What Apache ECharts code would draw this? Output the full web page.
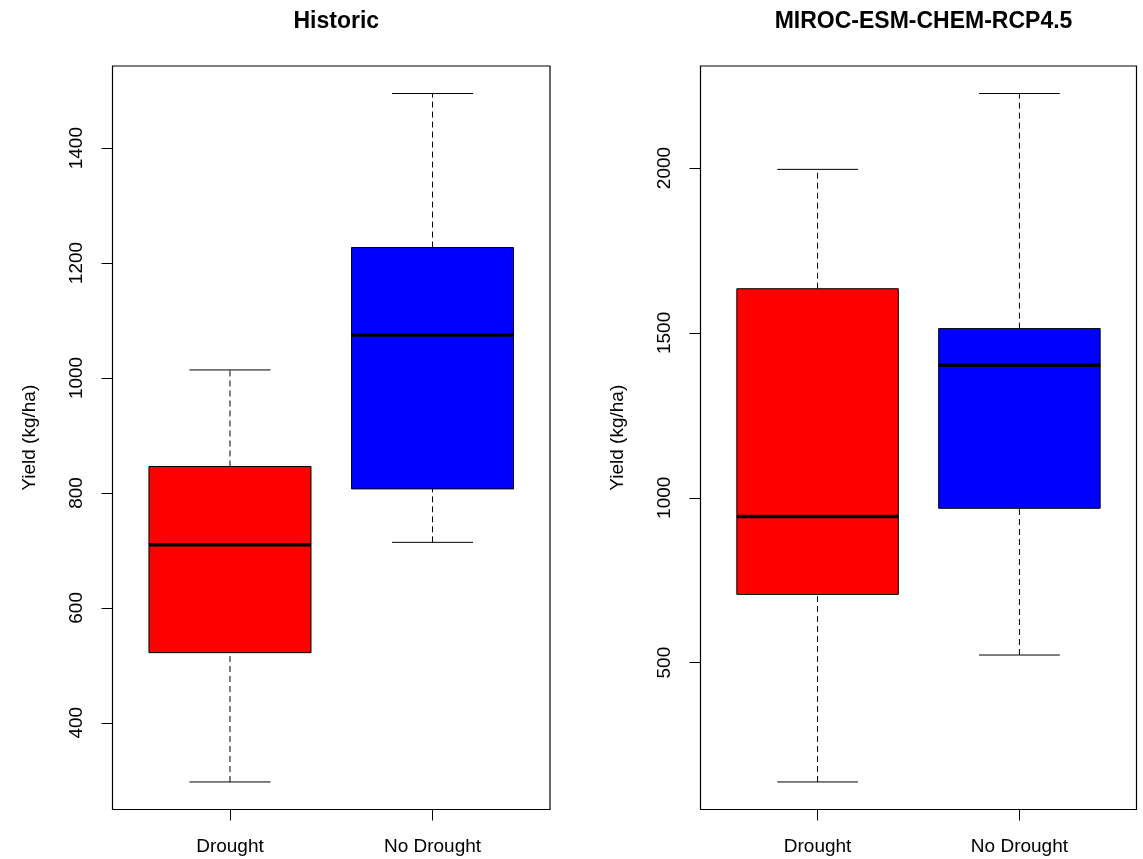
<!DOCTYPE html>
<html>
<head>
<meta charset="utf-8">
<script src="https://cdn.jsdelivr.net/npm/echarts@6/dist/echarts.min.js"></script>
<style>
html,body{margin:0;padding:0;background:#fff;}
#chart{width:1143px;height:859px;}
</style>
</head>
<body>
<div id="chart"></div>
<script>
// ---- data (whisker low, Q1, median, Q3, whisker high) ----
const categories = ['Drought', 'No Drought'];
const boxColors = ['#FF0000', '#0000FF'];
const panelTitles = ['Historic', 'MIROC-ESM-CHEM-RCP4.5'];
const historicDrought = [297, 522, 710, 846, 1014];
const historicNoDrought = [714, 807, 1075, 1227, 1495];
const mirocDrought = [138, 707, 943, 1634, 1996];
const mirocNoDrought = [523, 968, 1402, 1513, 2226];
const historicTicks = [400, 600, 800, 1000, 1200, 1400];
const mirocTicks = [500, 1000, 1500, 2000];
const yName = 'Yield (kg/ha)';

const FONT = '"Liberation Sans", Arial, sans-serif';

function ext(stats) {
  let lo = Infinity, hi = -Infinity;
  stats.forEach(s => { lo = Math.min(lo, ...s); hi = Math.max(hi, ...s); });
  const r = hi - lo;
  return [lo - 0.04 * r, hi + 0.04 * r];
}

function renderBox(params, api) {
  const x = api.value(0);
  const low = api.value(1), q1 = api.value(2), med = api.value(3), q3 = api.value(4), high = api.value(5);
  const color = api.visual('color');
  const hw = 0.4, cw = 0.2;
  const c = v => api.coord(v);
  const pLow = c([x, low]), pQ1 = c([x, q1]), pMed = c([x, med]), pQ3 = c([x, q3]), pHigh = c([x, high]);
  const bl = c([x - hw, q3]), br = c([x + hw, q1]);
  const capL = c([x - cw, low])[0], capR = c([x + cw, low])[0];
  const dash = { stroke: '#000', lineWidth: 1, lineDash: [6, 4] };
  const solid = { stroke: '#000', lineWidth: 1 };
  return {
    type: 'group',
    children: [
      { type: 'line', shape: { x1: pQ3[0], y1: pQ3[1], x2: pHigh[0], y2: pHigh[1] }, style: dash },
      { type: 'line', shape: { x1: pLow[0], y1: pLow[1], x2: pQ1[0], y2: pQ1[1] }, style: dash },
      { type: 'line', shape: { x1: capL, y1: pHigh[1], x2: capR, y2: pHigh[1] }, style: solid },
      { type: 'line', shape: { x1: capL, y1: pLow[1], x2: capR, y2: pLow[1] }, style: solid },
      { type: 'rect', shape: { x: bl[0], y: bl[1], width: br[0] - bl[0], height: br[1] - bl[1] },
        style: { fill: color, stroke: '#000', lineWidth: 1 } },
      { type: 'line', shape: { x1: bl[0], y1: pMed[1], x2: br[0], y2: pMed[1] },
        style: { stroke: '#000', lineWidth: 3.5 } }
    ]
  };
}

const panels = [
  { stats: [historicDrought, historicNoDrought], ticks: historicTicks },
  { stats: [mirocDrought, mirocNoDrought], ticks: mirocTicks }
];
const grids = [
  { left: 112.5, top: 66, width: 437.5, height: 743.5 },
  { left: 700.5, top: 66, width: 436, height: 743.5 }
];

const option = {
  animation: false,
  backgroundColor: '#fff',
  title: panelTitles.map((t, i) => ({
    text: t,
    left: grids[i].left + grids[i].width / 2,
    textAlign: 'center',
    top: 5,
    textStyle: { fontFamily: FONT, fontSize: 23, fontWeight: 'bold', color: '#000' }
  })),
  grid: grids.map(g => Object.assign({ show: true, borderColor: '#000', borderWidth: 1.2, backgroundColor: 'transparent' }, g)),
  xAxis: panels.map((p, i) => ({
    type: 'value', gridIndex: i, min: 0.42, max: 2.58,
    axisLine: { show: false },
    splitLine: { show: false },
    axisTick: { show: true, length: 11, lineStyle: { color: '#000' }, customValues: [1, 2] },
    axisLabel: {
      customValues: [1, 2], margin: 28,
      formatter: v => categories[Math.round(v) - 1] || '',
      fontFamily: FONT, fontSize: 19, color: '#000'
    }
  })),
  yAxis: panels.map((p, i) => {
    const e = ext(p.stats);
    return {
      type: 'value', gridIndex: i, min: e[0], max: e[1],
      name: yName, nameLocation: 'middle', nameGap: 73, nameRotate: 90,
      nameTextStyle: { fontFamily: FONT, fontSize: 19, color: '#000' },
      axisLine: { show: false },
      splitLine: { show: false },
      axisTick: { show: true, length: 11, lineStyle: { color: '#000' }, customValues: p.ticks },
      axisLabel: {
        customValues: p.ticks, rotate: 90, margin: 26,
        formatter: v => String(Math.round(v)),
        fontFamily: FONT, fontSize: 19, color: '#000'
      }
    };
  }),
  series: panels.map((p, i) => ({
    type: 'custom', xAxisIndex: i, yAxisIndex: i,
    renderItem: renderBox,
    encode: { x: 0, y: [1, 2, 3, 4, 5] },
    data: p.stats.map((s, k) => ({ value: [k + 1].concat(s), itemStyle: { color: boxColors[k] } }))
  }))
};

const chart = echarts.init(document.getElementById('chart'), null, { renderer: 'canvas' });
chart.setOption(option);
</script>
</body>
</html>
